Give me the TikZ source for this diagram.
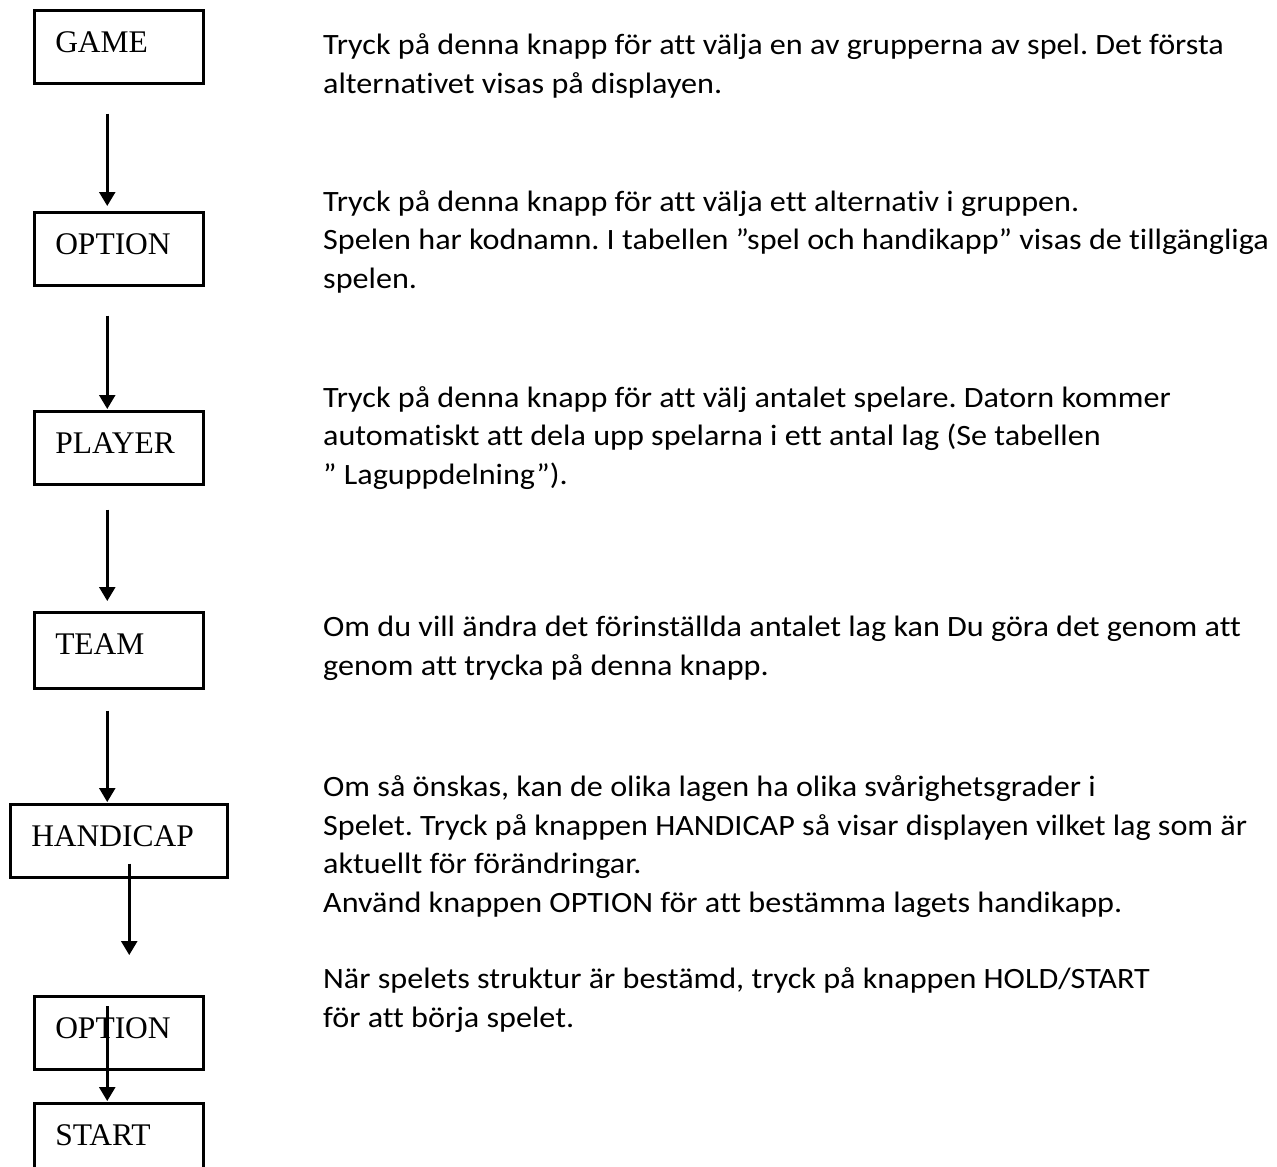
\documentclass[tikz,border=0pt]{standalone}
\usepackage{fontspec}
\setmainfont{Liberation Serif}
\newfontfamily\calib[FakeStretch=1.09, Ligatures=NoCommon]{Carlito}
\usetikzlibrary{positioning,arrows.meta}
\frenchspacing
\tikzset{btn/.style={draw, line width=2.5pt, anchor=north west, inner xsep=21pt, inner ysep=0pt, text width=127pt, align=left, text height=42pt, text depth=31pt, font=\fontsize{31.5}{36}\selectfont}}
\tikzset{desc/.style={anchor=base west, align=left, inner sep=0pt, font=\calib\fontsize{29.5}{38.5}\selectfont}}
\tikzset{arr/.style={draw, line width=2.5pt, -{Triangle[width=16pt,length=14pt]}}}

\begin{document}
\begin{tikzpicture}[x=1pt, y=-1pt]
	\useasboundingbox (0,0) rectangle (1277,1167);
	% buttons
	\node[btn] (game) at (33,9) {GAME};
	\node[btn] (opt) at (33,211) {OPTION};
	\node[btn] (player) at (33,410) {PLAYER};
	\node[btn, text depth=34pt] (team) at (33,611) {TEAM};
	\node[btn, text width=175pt] (hcap) at (9,803) {HANDICAP};
	\node[btn] (opt2) at (33,995) {OPTION};
	\node[btn] (start) at (33,1102) {START};
	% arrows
	\draw[arr, shorten <=29pt, shorten >=5pt] ([xshift=-11.5pt]game.south) -- ([xshift=-11.5pt]opt.north);
	\draw[arr, shorten <=29pt, shorten >=1pt] ([xshift=-11.5pt]opt.south) -- ([xshift=-11.5pt]player.north);
	\draw[arr, shorten <=24pt, shorten >=10pt] ([xshift=-11.5pt]player.south) -- ([xshift=-11.5pt]team.north);
	\draw[arr, shorten <=21pt, shorten >=1pt] ([xshift=-11.5pt]team.south) -- ([xshift=-11.5pt]hcap.north);
	\draw[arr, shorten <=-15pt, shorten >=40pt] ([xshift=10.5pt]hcap.south) -- ([xshift=10.5pt]opt2.north);
	\draw[arr, shorten <=11pt, shorten >=1pt] ([xshift=-11.5pt]opt2.north) -- ([xshift=-11.5pt]start.north);
	% descriptions (placed at the baseline of their last line)
	\node[desc] (tgame) at (323,93) {Tryck på denna knapp för att välja en av grupperna av spel. Det första\\alternativet visas på displayen.};
	\node[desc] (topt) at (323,288) {Tryck på denna knapp för att välja ett alternativ i gruppen.\\Spelen har kodnamn. I tabellen ”spel och handikapp” visas de tillgängliga\\spelen.};
	\node[desc] (tplayer) at (323,484) {Tryck på denna knapp för att välj antalet spelare. Datorn kommer\\automatiskt att dela upp spelarna i ett antal lag (Se tabellen\\” Laguppdelning”).};
	\node[desc] (tteam) at (323,675) {Om du vill ändra det förinställda antalet lag kan Du göra det genom att\\genom att trycka på denna knapp.};
	\node[desc] (thcap) at (323,912) {Om så önskas, kan de olika lagen ha olika svårighetsgrader i\\Spelet. Tryck på knappen HANDICAP så visar displayen vilket lag som är\\aktuellt för förändringar.\\Använd knappen OPTION för att bestämma lagets handikapp.};
	\node[desc] (tstart) at (323,1027) {När spelets struktur är bestämd, tryck på knappen HOLD/START\\för att börja spelet.};
\end{tikzpicture}
\end{document}
